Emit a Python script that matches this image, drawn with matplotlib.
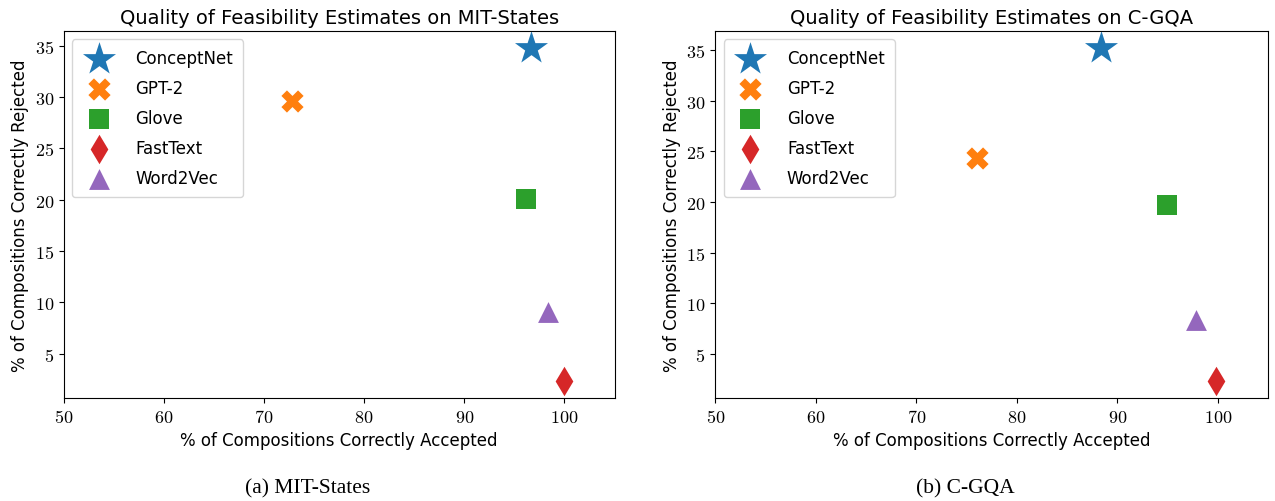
import matplotlib
matplotlib.use("Agg")
import matplotlib.pyplot as plt
from matplotlib.ticker import FormatStrFormatter

plt.rcParams["mathtext.fontset"] = "cm"
plt.rcParams["font.family"] = "DejaVu Sans"

methods = ["ConceptNet", "GPT-2", "Glove", "FastText", "Word2Vec"]
markers = ["*", "X", "s", "d", "^"]
marker_sizes = [25, 16, 15, 15, 15]
colors = ["#1f77b4", "#ff7f0e", "#2ca02c", "#d62728", "#9467bd"]

# MIT-States: (% accepted, % rejected)
mit_accepted = [96.7, 72.8, 96.2, 100.0, 98.4]
mit_rejected = [34.8, 29.6, 20.1, 2.3, 9.1]

# C-GQA
cgqa_accepted = [88.4, 76.0, 95.0, 99.8, 97.8]
cgqa_rejected = [35.2, 24.3, 19.7, 2.3, 8.4]

titles = ["Quality of Feasibility Estimates on MIT-States",
          "Quality of Feasibility Estimates on C-GQA"]
captions = ["(a) MIT-States", "(b) C-GQA"]

fig = plt.figure(figsize=(12.75, 5.02), dpi=100)
ax1 = fig.add_axes([0.050, 0.205, 0.432, 0.731])
ax2 = fig.add_axes([0.561, 0.205, 0.4335, 0.731])

datasets = [(mit_accepted, mit_rejected), (cgqa_accepted, cgqa_rejected)]
for ax, (xs, ys), title in zip([ax1, ax2], datasets, titles):
    for i, name in enumerate(methods):
        ax.scatter(xs[i], ys[i], marker=markers[i], s=marker_sizes[i] ** 2,
                   color=colors[i], label=name, linewidths=0)
    ax.set_xlim(50, 105)
    ax.set_xticks([50, 60, 70, 80, 90, 100])
    ax.set_yticks([5, 10, 15, 20, 25, 30, 35])
    ax.xaxis.set_major_formatter(FormatStrFormatter("$%g$"))
    ax.yaxis.set_major_formatter(FormatStrFormatter("$%g$"))
    ax.tick_params(labelsize=13)
    ax.set_title(title, fontsize=14)
    ax.set_xlabel("% of Compositions Correctly Accepted", fontsize=12)
    ax.set_ylabel("% of Compositions Correctly Rejected", fontsize=12)
    ax.legend(loc="upper left", fontsize=12, scatterpoints=1,
              handletextpad=1.2, labelspacing=0.72, borderpad=0.6)

# subfigure captions below each panel
fig.text(0.241, 0.026, captions[0], ha="center", va="center",
         family="Liberation Serif", fontsize=15.5)
fig.text(0.757, 0.026, captions[1], ha="center", va="center",
         family="Liberation Serif", fontsize=15.5)

fig.savefig("out.png", dpi=100)
